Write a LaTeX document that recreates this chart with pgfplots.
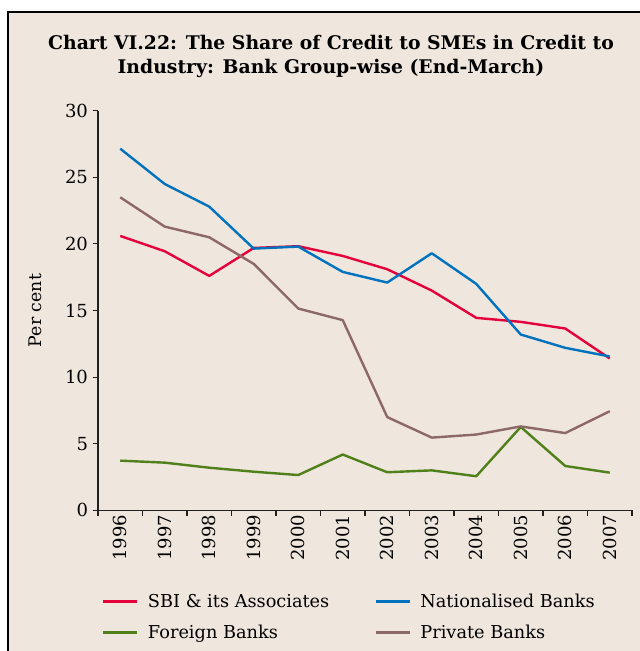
\documentclass[border=0pt]{standalone}
\usepackage{fontspec}
\setmainfont{DejaVu Serif}
\usepackage{pgfplots}
\pgfplotsset{compat=1.18}

\definecolor{bg}{RGB}{239,230,221}
\definecolor{sbired}{RGB}{228,0,58}
\definecolor{natblue}{RGB}{0,114,190}
\definecolor{forgreen}{RGB}{80,128,26}
\definecolor{privbrown}{RGB}{140,104,104}
\definecolor{axisc}{RGB}{35,31,32}

\begin{document}
\begin{tikzpicture}[x=0.75pt,y=0.75pt]
  \useasboundingbox (0,0) rectangle (640,651);
  \fill[white] (0,0) rectangle (640,651);
  \fill[bg] (8,0) rectangle (640,639);
  \draw[line width=1pt, black] (8,0) -- (8,639) -- (640,639);

  \node[anchor=base, font=\bfseries\fontsize{14.1}{16}\selectfont] at (331,601)
    {Chart VI.22: The Share of Credit to SMEs in Credit to};
  \node[anchor=base, font=\bfseries\fontsize{14.1}{16}\selectfont] at (331,577)
    {Industry: Bank Group-wise (End-March)};

  \begin{axis}[
      at={(73.5pt,105.5pt)}, anchor=south west,
      scale only axis,
      width=400.5pt, height=299.7pt,
      xmin=-0.5, xmax=11.5, ymin=0, ymax=30,
      axis x line*=bottom, axis y line*=left,
      axis line style={line width=0.8pt, color=axisc, -},
      tick style={line width=0.8pt, color=axisc},
      tick align=outside,
      major tick length=4pt,
      ytick={0,5,...,30},
      xtick={-0.5,0.5,...,11.5},
      xticklabels={},
      extra x ticks={0,1,2,3,4,5,6,7,8,9,10,11},
      extra x tick labels={1996,1997,1998,1999,2000,2001,2002,2003,2004,2005,2006,2007},
      extra x tick style={major tick length=0pt},
      xticklabel style={rotate=90, anchor=east},
      tick label style={font=\fontsize{13.5}{15}\selectfont},
      /pgf/number format/assume math mode=true,
      ylabel={Per cent},
      ylabel style={at={(axis description cs:-0.118,0.5)}, anchor=center,
        font=\fontsize{13}{15}\selectfont},
      legend columns=2,
      legend cell align=left,
      legend style={draw=none, fill=none,
        at={(axis description cs:0,-0.195)}, anchor=north west,
        font=\fontsize{13.3}{15}\selectfont,
        /tikz/every even column/.append style={column sep=4pt},
        row sep=7.5pt},
      legend image code/.code={\draw[#1] (0pt,0pt) -- (25.5pt,0pt);},
      every axis plot/.append style={line width=1.8pt, mark=none, line join=round},
    ]
    \addplot[sbired] coordinates {
      (0,20.6) (1,19.45) (2,17.6) (3,19.7) (4,19.83) (5,19.1)
      (6,18.1) (7,16.5) (8,14.45) (9,14.15) (10,13.65) (11,11.4)
    };
    \addlegendentry{\hspace{5pt}\makebox[164pt][l]{SBI \& its Associates}}
    \addplot[natblue] coordinates {
      (0,27.15) (1,24.5) (2,22.8) (3,19.65) (4,19.8) (5,17.9)
      (6,17.1) (7,19.3) (8,17.0) (9,13.2) (10,12.2) (11,11.55)
    };
    \addlegendentry{\hspace{5pt}Nationalised Banks}
    \addplot[forgreen] coordinates {
      (0,3.73) (1,3.58) (2,3.2) (3,2.9) (4,2.65) (5,4.19)
      (6,2.86) (7,3.0) (8,2.56) (9,6.26) (10,3.33) (11,2.83)
    };
    \addlegendentry{\hspace{5pt}\makebox[164pt][l]{Foreign Banks}}
    \addplot[privbrown] coordinates {
      (0,23.5) (1,21.3) (2,20.5) (3,18.5) (4,15.15) (5,14.28)
      (6,7.0) (7,5.46) (8,5.69) (9,6.3) (10,5.8) (11,7.44)
    };
    \addlegendentry{\hspace{5pt}Private Banks}
  \end{axis}
\end{tikzpicture}
\end{document}
